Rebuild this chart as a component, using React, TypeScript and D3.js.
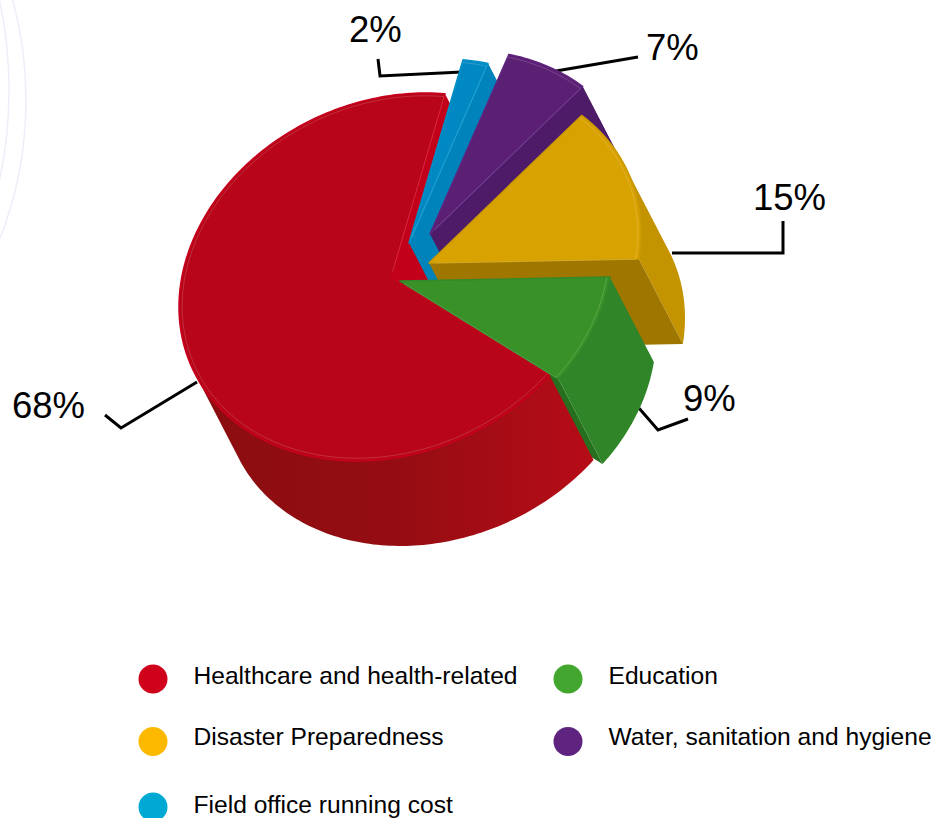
import React, { useEffect, useRef } from 'react';
import * as d3 from 'd3';

const categories = ['Healthcare and health-related', 'Field office running cost', 'Water, sanitation and hygiene', 'Disaster Preparedness', 'Education'];
const shares = [68.35, 2, 6.8, 14.65, 9.4];
const valueLabels = ['68%', '2%', '7%', '15%', '9%'];
const legendOrder = [0, 4, 3, 2, 1];

// slice styling, same order as categories
const legendColors = ['#d0021b', '#00a9d4', '#5f2480', '#fdb900', '#43a62e'];
const topColors = ['#b80519', '#0088c2', '#5b1f73', '#d8a200', '#399227'];
const rimColors = ['#c8001c', '#0090c8', '#5f2480', '#cc9a00', '#34892a'];
const wallColors = ['url(#redWall)', '#0084bc', '#4e1b68', '#c49300', '#2f8527'];
const sideColors = ['#c2001a', '#0082ba', '#4e1b68', '#9f7600', '#256f1f'];
const explodeX = [-1, 17, 38, 37, 8];
const explodeY = [1, -33, -42, -13, 5];

const WIDTH = 934;
const HEIGHT = 818;

// projection of the tilted disc
const cx = 392;
const cy = 276;
const rx = 212;
const skew = -30;
const ry = 181.5;
const depthX = 44;
const depthY = 85;

const leaders: [number, number][][] = [
  [[197, 382], [121, 428], [105, 415]],
  [[378, 59], [380, 76], [462, 72]],
  [[556, 71], [638, 57]],
  [[672, 253], [783, 253], [783, 221]],
  [[638, 407], [658, 430], [688, 419]],
];
const labelPos = [[12, 418], [349, 42], [646, 60], [753, 210], [683, 411]];
const legendCols = [153, 568];
const legendRows = [679, 741.5, 807];
const legendTextRows = [684, 745, 813];

type Pt = [number, number];

export default function App() {
  const svgRef = useRef<SVGSVGElement>(null);

  useEffect(() => {
    if (!svgRef.current) return;
    const svg = d3.select(svgRef.current);
    svg.selectAll('*').remove();

    const defs = svg.append('defs');
    const grad = defs.append('linearGradient')
      .attr('id', 'redWall')
      .attr('gradientUnits', 'userSpaceOnUse')
      .attr('x1', cx - rx + 40).attr('x2', cx + rx)
      .attr('y1', 0).attr('y2', 0);
    grad.append('stop').attr('offset', '0%').attr('stop-color', '#8c0d10');
    grad.append('stop').attr('offset', '45%').attr('stop-color', '#940d12');
    grad.append('stop').attr('offset', '100%').attr('stop-color', '#b80c18');

    // faint page decoration, top left
    const deco = [[-200, 100, 226, 296], [-200, 90, 209, 303]];
    svg.selectAll('.deco').data(deco).enter().append('ellipse')
      .attr('class', 'deco')
      .attr('cx', d => d[0]).attr('cy', d => d[1])
      .attr('rx', d => d[2]).attr('ry', d => d[3])
      .style('fill', 'none')
      .style('stroke', '#eeeef8')
      .style('stroke-width', 1.5);

    // leader lines go behind the pie
    const line = d3.line<Pt>();
    svg.selectAll('.leader').data(leaders).enter().append('path')
      .attr('class', 'leader')
      .attr('d', d => line(d))
      .style('fill', 'none')
      .style('stroke', '#000')
      .style('stroke-width', 3);

    const arcs = d3.pie<number>()
      .sort(null)
      .startAngle((131.6 * Math.PI) / 180)
      .endAngle((131.6 * Math.PI) / 180 + 2 * Math.PI)(shares);

    const project = (i: number, a: number, r = 1, depth = 0): Pt => {
      const u = Math.sin(a) * r;
      const v = -Math.cos(a) * r;
      return [
        cx + explodeX[i] + rx * u + depth * depthX,
        cy + explodeY[i] + skew * u + ry * v + depth * depthY,
      ];
    };
    const arcPoints = (i: number, r = 1, depth = 0, end = arcs[i].endAngle): Pt[] => {
      const { startAngle } = arcs[i];
      const steps = d3.range(startAngle, end, 0.02).concat(end);
      return steps.map(a => project(i, a, r, depth));
    };

    const topFace = (i: number) => line([project(i, 0, 0), ...arcPoints(i)]) + 'Z';
    // the swept rim: hull of the arc and its shifted copy, only the part facing front
    const outerWall = (i: number) => {
      const end = Math.min(arcs[i].endAngle, arcs[i].startAngle + 2.1);
      const hull = d3.polygonHull([...arcPoints(i, 1, 0, end), ...arcPoints(i, 1, 1, end)]);
      return line(hull as Pt[]) + 'Z';
    };
    // flat cut face running from the centre to the arc at a given angle
    const cutWall = (i: number, a: number) => line([
      project(i, 0, 0), project(i, a), project(i, a, 1, 1), project(i, 0, 0, 1),
    ]) + 'Z';

    const drawCut = (i: number, a: number, color: string) => {
      svg.append('path').attr('d', cutWall(i, a)).style('fill', color);
    };
    const drawOuter = (i: number) => {
      svg.append('path').attr('d', outerWall(i)).style('fill', wallColors[i]);
    };
    const drawTop = (i: number) => {
      svg.append('path').attr('d', topFace(i))
        .style('fill', topColors[i])
        .style('stroke', rimColors[i])
        .style('stroke-width', 1.5)
        .style('stroke-linejoin', 'round');
      // pale bevel just inside the rim
      svg.append('path')
        .attr('d', line([project(i, arcs[i].endAngle, 0.03), ...arcPoints(i, 0.985).reverse()]))
        .style('fill', 'none')
        .style('stroke', '#fff')
        .style('stroke-opacity', 0.16)
        .style('stroke-width', 1);
    };

    // back to front; the green cut sits under the red slice
    drawCut(4, arcs[4].endAngle, sideColors[4]);

    drawOuter(0);
    drawCut(0, arcs[0].endAngle, sideColors[0]);

    [1, 2, 3].forEach(i => {
      drawOuter(i);
      drawCut(i, arcs[i].endAngle, sideColors[i]);
      drawTop(i);
    });

    // red top goes over the lower ends of the exploded walls
    drawTop(0);

    drawOuter(4);
    drawTop(4);

    // percentage labels
    svg.selectAll('.value').data(valueLabels).enter().append('text')
      .attr('class', 'value')
      .attr('x', (d, i) => labelPos[i][0])
      .attr('y', (d, i) => labelPos[i][1])
      .style('font-family', '"Liberation Sans", sans-serif')
      .style('font-size', '36.5px')
      .style('fill', '#000')
      .text(d => d);

    // legend
    const legend = svg.selectAll('.legend-item').data(legendOrder).enter().append('g')
      .attr('class', 'legend-item');

    legend.append('circle')
      .attr('cx', (d, n) => legendCols[n % 2])
      .attr('cy', (d, n) => legendRows[Math.floor(n / 2)])
      .attr('r', 14.5)
      .style('fill', d => legendColors[d]);

    legend.append('text')
      .attr('x', (d, n) => legendCols[n % 2] + 40.5)
      .attr('y', (d, n) => legendTextRows[Math.floor(n / 2)])
      .style('font-family', '"Liberation Sans", sans-serif')
      .style('font-size', '24.6px')
      .style('fill', '#000')
      .text(d => categories[d]);
  }, []);

  return (
    <svg
      ref={svgRef}
      width={WIDTH}
      height={HEIGHT}
      style={{ position: 'absolute', left: 0, top: 0, background: '#fff' }}
    />
  );
}
